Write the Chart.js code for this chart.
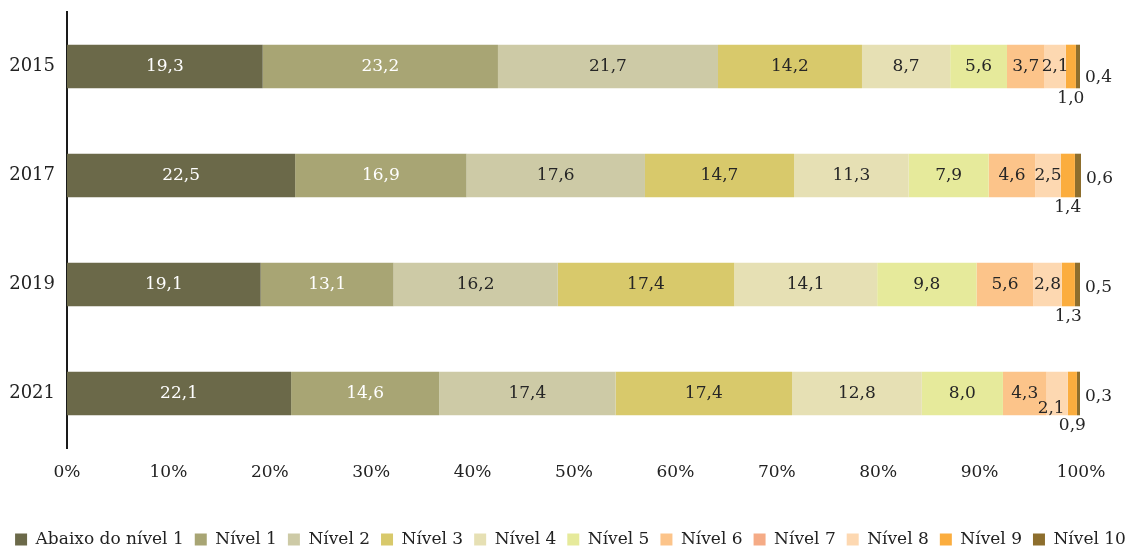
<!DOCTYPE html>
<html>
<head>
<meta charset="utf-8">
<script src="https://cdn.jsdelivr.net/npm/chart.js@4/dist/chart.umd.min.js"></script>
<style>
html, body { margin: 0; padding: 0; background: #fff; }
#wrap { width: 1141px; height: 548px; position: relative; }
</style>
</head>
<body>
<div id="wrap"><canvas id="grafico"></canvas></div>
<script>
// dados (% de estudantes por nível)
var anos = ['2015', '2017', '2019', '2021'];
var niveis = ['Abaixo do nível 1', 'Nível 1', 'Nível 2', 'Nível 3', 'Nível 4', 'Nível 5',
              'Nível 6', 'Nível 7', 'Nível 8', 'Nível 9', 'Nível 10'];
var abaixo1 = [19.3, 22.5, 19.1, 22.1];
var nivel1  = [23.2, 16.9, 13.1, 14.6];
var nivel2  = [21.7, 17.6, 16.2, 17.4];
var nivel3  = [14.2, 14.7, 17.4, 17.4];
var nivel4  = [8.7, 11.3, 14.1, 12.8];
var nivel5  = [5.6, 7.9, 9.8, 8.0];
var nivel6  = [3.7, 4.6, 5.6, 4.3];
var nivel7  = [null, null, null, null];
var nivel8  = [2.1, 2.5, 2.8, 2.1];
var nivel9  = [1.0, 1.4, 1.3, 0.9];
var nivel10 = [0.4, 0.6, 0.5, 0.3];
var ticksX  = ['0%', '10%', '20%', '30%', '40%', '50%', '60%', '70%', '80%', '90%', '100%'];

var series = [abaixo1, nivel1, nivel2, nivel3, nivel4, nivel5, nivel6, nivel7, nivel8, nivel9, nivel10];
var cores = ['#6b6949', '#a8a574', '#cdcaa6', '#d8c96b', '#e6e0b4', '#e6ea9b',
             '#fcc48a', '#f5ab86', '#fdd8b1', '#fbad3e', '#8d6e2d'];
var fonte = '"DejaVu Serif", serif';

// rótulos de valor dentro/fora das barras
var rotulos = {
    id: 'rotulos',
    afterDatasetsDraw: function(chart) {
        var ctx = chart.ctx;
        ctx.save();
        ctx.font = '17px ' + fonte;
        ctx.textBaseline = 'middle';
        chart.data.datasets.forEach(function(ds, i) {
            var meta = chart.getDatasetMeta(i);
            meta.data.forEach(function(bar, j) {
                var v = ds.data[j];
                if (v == null) return;
                var txt = v.toFixed(1).replace('.', ',');
                var p = bar.getProps(['x', 'y', 'base', 'height'], true);
                var x = (p.x + p.base) / 2, y = p.y;
                ctx.textAlign = 'center';
                ctx.fillStyle = i < 2 ? '#ffffff' : '#262626';
                if (i == 9) {
                    y = p.y + p.height / 2 + 10;
                } else if (i == 10) {
                    x = p.x + 5;
                    y = p.y + (j == 0 ? 11 : 3);
                    ctx.textAlign = 'left';
                } else if (i == 8 && j == 3) {
                    // rótulo empurrado para baixo para não sobrepor o 4,3
                    x -= 6;
                    y += 15;
                }
                ctx.fillText(txt, x, y);
            });
        });
        ctx.restore();
    }
};

new Chart(document.getElementById('grafico'), {
    type: 'bar',
    data: {
        labels: anos,
        datasets: series.map(function(d, i) {
            return {
                label: niveis[i],
                data: d,
                backgroundColor: cores[i],
                borderWidth: 0,
                categoryPercentage: 1,
                barPercentage: 0.4
            };
        })
    },
    options: {
        indexAxis: 'y',
        responsive: true,
        maintainAspectRatio: false,
        animation: false,
        layout: { padding: { top: 12, right: 0, left: 0, bottom: -10 } },
        plugins: {
            legend: {
                position: 'bottom',
                labels: {
                    font: { family: fonte, size: 17 },
                    color: '#222',
                    boxWidth: 12,
                    boxHeight: 12,
                    padding: 11
                }
            },
            tooltip: { enabled: false }
        },
        scales: {
            x: {
                stacked: true,
                min: 0,
                max: 100,
                ticks: {
                    stepSize: 10,
                    padding: 14,
                    color: '#222',
                    font: { family: fonte, size: 17 },
                    callback: function(v, k) { return ticksX[k]; }
                },
                grid: { display: false, drawTicks: false },
                border: { display: false },
                afterFit: function(s) { s.height = 72; s.paddingLeft = 0; s.paddingRight = 0; }
            },
            y: {
                stacked: true,
                ticks: {
                    padding: 12,
                    color: '#222',
                    font: { family: fonte, size: 18 }
                },
                grid: { display: false, drawTicks: false },
                border: { display: true, color: '#1a1a1a', width: 2 },
                afterFit: function(s) { s.width = 67; s.paddingTop = 0; s.paddingBottom = 0; }
            },
            // espaço vazio à direita para os rótulos de fora
            margem: {
                type: 'category',
                position: 'right',
                ticks: { display: false },
                grid: { display: false, drawTicks: false },
                border: { display: false },
                afterFit: function(s) { s.width = 60; s.paddingTop = 0; s.paddingBottom = 0; }
            }
        }
    },
    plugins: [rotulos]
});
</script>
</body>
</html>
